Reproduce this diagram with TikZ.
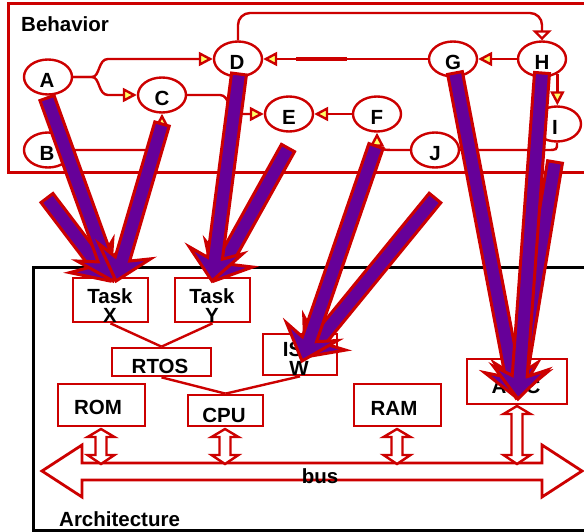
\documentclass[tikz,border=0pt]{standalone}
\usepackage{fontspec}
\setmainfont{Liberation Sans}
\usetikzlibrary{calc,shapes.geometric,arrows.meta}
\definecolor{myred}{RGB}{204,0,0}
\definecolor{mypurple}{RGB}{102,0,153}
\definecolor{yel}{RGB}{255,255,102}
\newcommand\fatarrow[2]{%
 \coordinate (fq) at ($(#2)!23pt!(#1)$);
 \coordinate (fr) at ($(#2)!31pt!(#1)$);
 \draw[fatarr] ($(#1)!7.5pt!90:(#2)$) -- ($(fq)!7.5pt!-90:(#1)$) -- ($(fr)!27pt!-90:(#1)$) -- (#2) -- ($(fr)!27pt!90:(#1)$) -- ($(fq)!7.5pt!90:(#1)$) -- ($(#1)!7.5pt!-90:(#2)$) -- cycle;}
\newcommand\vdarr[3]{%
 \draw[dblarr] (#1,#2) -- (#1+13.5,#2+8) -- (#1+5.5,#2+8) -- (#1+5.5,#3-9) -- (#1+13.5,#3-9) -- (#1,#3) -- (#1-13.5,#3-9) -- (#1-5.5,#3-9) -- (#1-5.5,#2+8) -- (#1-13.5,#2+8) -- cycle;}
\tikzset{
 ell/.style={ellipse, draw=myred, line width=2.4pt, fill=white, minimum width=48pt, minimum height=35pt, inner sep=0pt},
 box/.style={rectangle, draw=myred, line width=2.7pt, inner sep=0pt, fill=white},
 lbl/.style={font=\bfseries\fontsize{20.5}{19}\selectfont, inner sep=0pt, anchor=base},
 conn/.style={draw=myred, line width=2.4pt},
 ytip/.style={-{Triangle[length=14pt,width=14pt,fill=yel]}},
 wtip/.style={-{Triangle[length=10pt,width=19pt,fill=white]}},
 fatarr/.style={draw=myred, fill=mypurple, line width=3pt, line join=miter},
 dblarr/.style={draw=myred, fill=white, line width=2.4pt, line join=miter},
}
\begin{document}
\begin{tikzpicture}[x=1pt,y=-1pt]
\useasboundingbox (0,0) rectangle (584,532);
\clip (0,0) rectangle (584,532);
\fill[white] (0,0) rectangle (584,532);
% Behavior frame
\draw[myred, line width=3pt] (8,4) rectangle (600,173);
\node[lbl, anchor=base west] (behlbl) at (21,32) {Behavior};
% ellipses
\node[ell] (A) at (48,77) {};
\node[ell] (B) at (48,150) {};
\node[ell] (C) at (162,95) {};
\node[ell] (D) at (238,59) {};
\node[ell] (E) at (289,114) {};
\node[ell] (F) at (377,114) {};
\node[ell] (G) at (453,59) {};
\node[ell] (H) at (542,59) {};
\node[ell] (I) at (557,124) {};
\node[ell] (J) at (435,150) {};
\node[lbl] (lA) at (47,88) {A};
\node[lbl] (lB) at (47,161) {B};
\node[lbl] (lC) at (162,106) {C};
\node[lbl] (lD) at (237,70) {D};
\node[lbl] (lE) at (289,125) {E};
\node[lbl] (lF) at (377,125) {F};
\node[lbl] (lG) at (453,70) {G};
\node[lbl] (lH) at (542,70) {H};
\node[lbl] (lI) at (555,135) {I};
\node[lbl] (lJ) at (435,161) {J};
% behavior connectors
\draw[conn, ytip] (A.east) -- (92,77) .. controls (100,77) and (98,59) .. (108,59) -- (D.west);
\draw[conn, ytip] (A.east) -- (92,77) .. controls (100,77) and (98,95) .. (108,95) -- (C.west);
\draw[conn, wtip, rounded corners=12pt] (D.north) -- (238,13) -- (542,13) -- (H.north);
\draw[conn, ytip] (G.west) -- (D.east);
\draw[myred, line width=4pt] (296,59) -- (347,59);
\draw[conn, ytip] (H.west) -- (G.east);
\draw[conn, ytip] (H.-44) -- (H.-44 |- I.north);
\draw[conn, ytip] (F.west) -- (E.east);
\draw[conn, ytip] (C.east) -- (220,95) .. controls (230,95) and (228,114) .. (240,114) -- (E.west);
\draw[conn, ytip] (J.west) -- (392,150) .. controls (380,150) and (377,148) .. (377,142) -- (F.south);
\draw[conn] (I.south) .. controls (557,150) .. (547,150) -- (J.east);
\draw[conn, ytip] (B.east) -- (146,150) .. controls (162,150) .. (162,134) -- (C.south);
% Architecture frame
\draw[black, line width=3pt] (33,267) rectangle (600,530);
\node[lbl, anchor=base west] (archlbl) at (59,526) {Architecture};
% bus
\draw[dblarr, line width=2.8pt] (42,471) -- (82,445) -- (82,463) -- (542,463) -- (542,445) -- (582,471) -- (542,497) -- (542,480) -- (82,480) -- (82,497) -- cycle;
% boxes
\node[box, minimum width=75pt, minimum height=44pt] (taskx) at (110.5,300) {};
\node[box, minimum width=75pt, minimum height=44pt] (tasky) at (212.5,300) {};
\node[box, minimum width=99pt, minimum height=28pt] (rtos) at (161.5,362) {};
\node[box, minimum width=74pt, minimum height=41pt] (isw) at (300,354.5) {};
\node[box, minimum width=87pt, minimum height=42pt] (rom) at (101.5,405) {};
\node[box, minimum width=75pt, minimum height=31pt] (cpu) at (225.5,410.5) {};
\node[box, minimum width=87pt, minimum height=42pt] (ram) at (397.5,405) {};
\node[box, minimum width=100pt, minimum height=45pt] (asic) at (517,381.5) {};
\draw[conn] (taskx.south) -- (rtos.north);
\draw[conn] (tasky.south) -- (rtos.north);
\draw[conn] (rtos.south) -- (cpu.north);
\draw[conn] (isw.south) -- (cpu.north);
% small double arrows to bus
\vdarr{101}{429}{464}
\vdarr{225}{429}{464}
\vdarr{397}{429}{464}
\vdarr{517}{406}{464}
% texts
\node[lbl] (tX1) at (110,303) {Task};
\node[lbl] (tX2) at (110,322) {X};
\node[lbl] (tY1) at (212,303) {Task};
\node[lbl] (tY2) at (212,322) {Y};
\node[lbl] (trtos) at (160,373) {RTOS};
\node[lbl] (tisw1) at (300,356) {IS\phantom{R}};
\node[lbl] (tisw2) at (299,375) {W};
\node[lbl] (trom) at (98,414) {ROM};
\node[lbl] (tcpu) at (224,422) {CPU};
\node[lbl] (tram) at (394,415) {RAM};
\node[lbl] (tasic) at (516,393) {A\phantom{SI}C};
\node[lbl] (tbus) at (320,483) {bus};
% mapping arrows
\coordinate (s1) at (47,98);   \coordinate (e1) at (113,281);
\coordinate (s2) at (162,124); \coordinate (e2) at (116,281);
\coordinate (s3) at (47,198);  \coordinate (e3) at (110,281);
\coordinate (s4) at (239,74);  \coordinate (e4) at (212,281);
\coordinate (s5) at (288,148); \coordinate (e5) at (214,281);
\coordinate (s6) at (376,146); \coordinate (e6) at (302,361);
\coordinate (s7) at (435,198); \coordinate (e7) at (305,357);
\coordinate (s8) at (455,73);  \coordinate (e8) at (517,398);
\coordinate (s9) at (542,73);  \coordinate (e9) at (518,399);
\coordinate (s10) at (555,162); \coordinate (e10) at (516,398);
\fatarrow{s3}{e3}
\fatarrow{s1}{e1}
\fatarrow{s2}{e2}
\fatarrow{s5}{e5}
\fatarrow{s4}{e4}
\fatarrow{s7}{e7}
\fatarrow{s6}{e6}
\fatarrow{s10}{e10}
\fatarrow{s8}{e8}
\fatarrow{s9}{e9}
\end{tikzpicture}
\end{document}
